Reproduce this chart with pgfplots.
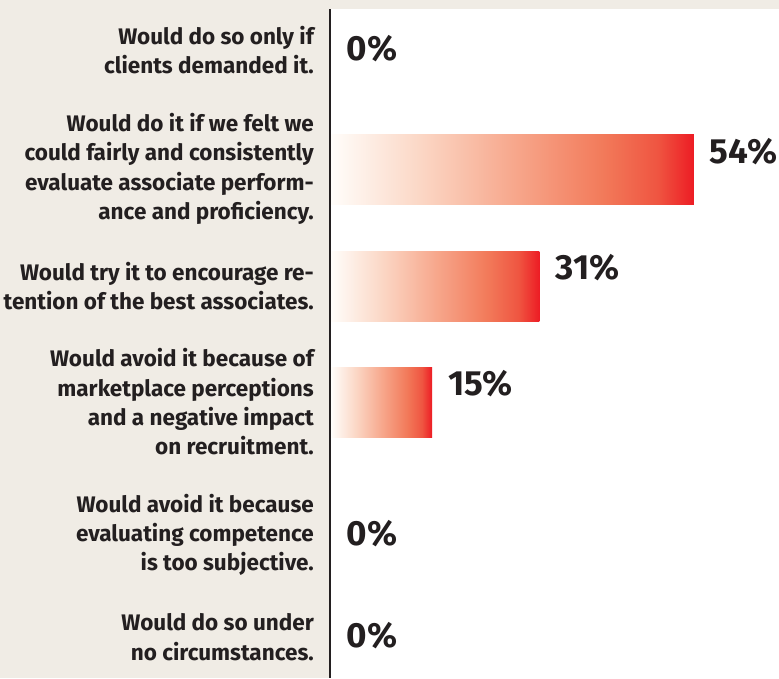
\documentclass[border=0pt]{standalone}
\usepackage{fontspec}
\setmainfont{Fira Sans}
\usepackage{pgfplots}
\pgfplotsset{compat=1.18}
\definecolor{bgc}{RGB}{240,236,229}
\definecolor{txt}{RGB}{35,31,32}
\definecolor{s0}{RGB}{255,253,250}
\definecolor{s1}{RGB}{251,214,196}
\definecolor{s2}{RGB}{247,168,141}
\definecolor{s3}{RGB}{242,122,90}
\definecolor{s4}{RGB}{239,85,65}
\definecolor{s5}{RGB}{237,28,36}
\pgfdeclarehorizontalshading{barshade}{100bp}{color(0bp)=(s0); color(25bp)=(s0); color(37.5bp)=(s1); color(50bp)=(s2); color(62.5bp)=(s3); color(70bp)=(s4); color(75bp)=(s5); color(100bp)=(s5)}
\begin{document}
\begin{tikzpicture}
\fill[bgc] (0,0) rectangle (779pt,678pt);
\begin{axis}[
  at={(330pt,0pt)}, anchor=south west,
  scale only axis, width=449pt, height=669pt,
  xmin=-0.2, xmax=66.7,
  ymin=9, ymax=678, y dir=reverse,
  axis x line=none, axis y line*=left,
  y axis line style={line width=2pt, color=txt},
  axis background/.style={fill=white},
  ytick={50,169,286,402,535,637},
  yticklabels={
    {Would do so only if\\clients demanded it.},
    {Would do it if we felt we\\could fairly and consistently\\evaluate associate perform-\\ance and proficiency.},
    {Would try it to encourage re-\\tention of the best associates.},
    {Would avoid it because of\\marketplace perceptions\\and a negative impact\\on recruitment.},
    {Would avoid it because\\evaluating competence\\is too subjective.},
    {Would do so under\\no circumstances.}},
  ytick style={draw=none}, major tick length=0pt,
  yticklabel style={align=right, inner sep=0pt, xshift=-16pt, text=txt,
    font={\fontsize{22.5pt}{29.3pt}\selectfont\bfseries}},
  /pgf/number format/assume math mode=true,
  point meta=x,
  nodes near coords={\pgfmathprintnumber{\pgfplotspointmeta}\%},
  every node near coord/.append style={anchor=west, inner sep=0pt, text=txt,
    font={\fontsize{35pt}{38pt}\selectfont\bfseries}},
  clip=false,
]
\addplot[xbar, bar shift=0pt, bar width=70pt, draw=none, shading=barshade,
  every node near coord/.append style={xshift=16pt, yshift=17pt}]
  coordinates {(54,169)};
\addplot[xbar, bar shift=0pt, bar width=70pt, draw=none, shading=barshade,
  every node near coord/.append style={xshift=16pt, yshift=18pt}]
  coordinates {(31,286)};
\addplot[xbar, bar shift=0pt, bar width=70pt, draw=none, shading=barshade,
  every node near coord/.append style={xshift=16pt, yshift=18pt}]
  coordinates {(15,402)};
\addplot[draw=none, mark=none,
  every node near coord/.append style={xshift=15pt, yshift=1pt}]
  coordinates {(0,50) (0,535) (0,637)};
\end{axis}
\pgfresetboundingbox
\useasboundingbox (0,0) rectangle (779pt,678pt);
\end{tikzpicture}
\end{document}
